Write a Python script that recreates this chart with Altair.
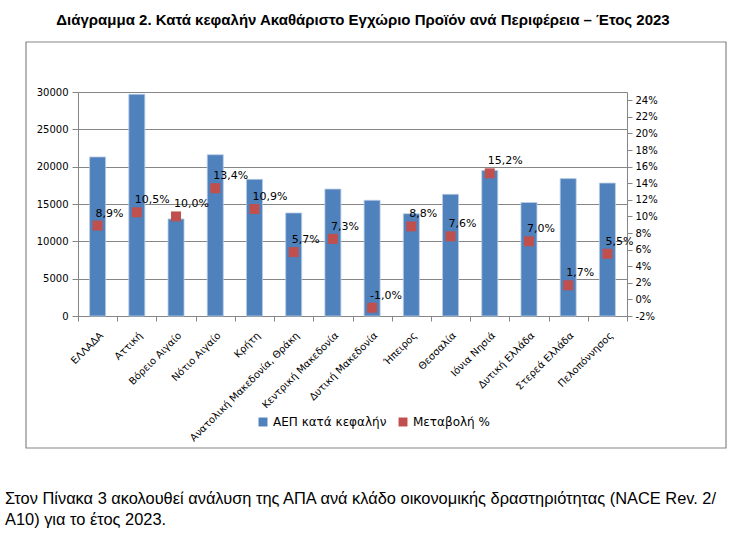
import altair as alt
import pandas as pd

regions = ["ΕΛΛΑΔΑ", "Αττική", "Βόρειο Αιγαίο", "Νότιο Αιγαίο", "Κρήτη",
           "Ανατολική Μακεδονία, Θράκη", "Κεντρική Μακεδονία", "Δυτική Μακεδονία",
           "Ήπειρος", "Θεσσαλία", "Ιόνια Νησιά", "Δυτική Ελλάδα", "Στερεά Ελλάδα",
           "Πελοπόννησος"]
gdp_per_capita = [21300, 29700, 13000, 21600, 18300, 13800, 17000, 15500,
                  13700, 16300, 19500, 15200, 18400, 17800]
change_pct = [8.9, 10.5, 10.0, 13.4, 10.9, 5.7, 7.3, -1.0, 8.8, 7.6, 15.2, 7.0, 1.7, 5.5]
left_ticks = [0, 5000, 10000, 15000, 20000, 25000, 30000]
right_ticks = [-2, 0, 2, 4, 6, 8, 10, 12, 14, 16, 18, 20, 22, 24]

title_text = "Διάγραμμα 2. Κατά κεφαλήν Ακαθάριστο Εγχώριο Προϊόν ανά Περιφέρεια – Έτος 2023"
foot_lines = ["Στον Πίνακα 3 ακολουθεί ανάλυση της ΑΠΑ ανά κλάδο οικονομικής δραστηριότητας (NACE Rev. 2/",
              "A10) για το έτος 2023."]
series_names = ["ΑΕΠ κατά κεφαλήν", "Μεταβολή %"]

df = pd.DataFrame({
    "region": regions,
    "gdp": gdp_per_capita,
    "chg": change_pct,
    "label": [f"{v:.1f}".replace(".", ",") + "%" for v in change_pct],
    "s_bar": series_names[0],
    "s_pt": series_names[1],
})

BLUE = "#4F81BD"
RED = "#C0504D"
GRAY = "#868686"
AXFONT = "DejaVu Sans"

color_scale = alt.Scale(domain=series_names, range=[BLUE, RED])

x_enc = alt.X("region:N", sort=regions, title=None,
              scale=alt.Scale(paddingInner=0, paddingOuter=0),
              axis=alt.Axis(labelAngle=-45, tickBand="extent", labelFontSize=10,
                            labelFont=AXFONT, labelColor="#000000", domainColor=GRAY,
                            tickColor=GRAY, tickSize=5, labelPadding=9, grid=False))

bars = alt.Chart(df).mark_bar(width=16, stroke="#b9cde5", strokeWidth=0.8).encode(
    x=x_enc,
    y=alt.Y("gdp:Q", title=None,
            scale=alt.Scale(domain=[0, 30000], nice=False),
            axis=alt.Axis(values=left_ticks, format="d", labelFontSize=10, labelFont=AXFONT,
                          labelColor="#000000", domainColor=GRAY, tickColor=GRAY,
                          gridColor=GRAY, grid=True, tickSize=6, labelPadding=4)),
    color=alt.Color("s_bar:N", scale=color_scale,
                    legend=alt.Legend(title=None, orient="none", legendX=179, legendY=324,
                                      direction="horizontal", symbolType="square",
                                      symbolSize=80, symbolStrokeWidth=0,
                                      labelFontSize=12, labelFont=AXFONT,
                                      labelColor="#000000", columnPadding=10)),
)

pct_scale = alt.Scale(domain=[-2, 25], nice=False, zero=False)
pct_axis = alt.Axis(orient="right", values=right_ticks,
                    labelExpr="datum.value + '%'", labelFontSize=10,
                    labelFont=AXFONT, labelColor="#000000", domainColor=GRAY,
                    tickColor=GRAY, grid=False, tickSize=5, labelPadding=3)

points = alt.Chart(df).mark_square(size=100, opacity=1).encode(
    x=alt.X("region:N", sort=regions),
    y=alt.Y("chg:Q", title=None, scale=pct_scale, axis=pct_axis),
    color=alt.Color("s_pt:N", scale=color_scale),
)

labels = alt.Chart(df).mark_text(align="left", baseline="middle", dx=-2, dy=-12,
                                 fontSize=11, font=AXFONT, color="#000000").encode(
    x=alt.X("region:N", sort=regions),
    y=alt.Y("chg:Q", title=None, scale=pct_scale, axis=pct_axis),
    text="label:N",
)

one = alt.Data(values=[{}])

frame = alt.Chart(one).mark_rect(fillOpacity=0, stroke=GRAY, strokeWidth=1.2).encode(
    x=alt.value(-52), x2=alt.value(648), y=alt.value(-50), y2=alt.value(356))

title = alt.Chart(one).mark_text(align="center", baseline="middle", fontSize=15,
                                 fontWeight="bold", font="Liberation Sans",
                                 color="#000000").encode(
    x=alt.value(285), y=alt.value(-72), text=alt.value(title_text))

foot = alt.Chart(one).mark_text(align="left", baseline="middle", fontSize=16.4,
                                font="Liberation Sans", color="#000000",
                                lineHeight=21).encode(
    x=alt.value(-73), y=alt.value(407), text=alt.value(foot_lines))

pct_layer = alt.layer(points, labels)

chart = alt.layer(frame, title, foot, bars, pct_layer).resolve_scale(
    y="independent"
).properties(
    width=549, height=224,
    autosize=alt.AutoSizeParams(type="none"),
    padding={"left": 78, "top": 92, "right": 112, "bottom": 222},
).configure_view(stroke=None).configure(background="white")

chart.save("out.html", embed_options={"renderer": "svg", "actions": False})
